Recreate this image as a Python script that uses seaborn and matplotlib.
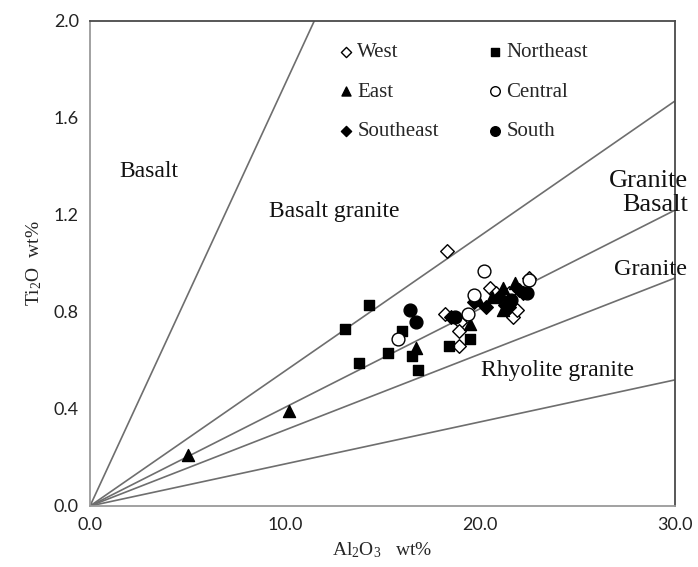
import numpy as np
import pandas as pd
import matplotlib
matplotlib.use("Agg")
import matplotlib.pyplot as plt
import seaborn as sns

# Sample groups: Al2O3 (wt%) and Ti2O (wt%)
west_al = [18.3, 18.2, 19.0, 18.9, 18.9, 20.5, 20.8, 21.5, 21.7, 21.9, 22.5]
west_ti = [1.05, 0.79, 0.76, 0.72, 0.66, 0.90, 0.88, 0.88, 0.78, 0.81, 0.94]

northeast_al = [14.3, 13.1, 16.0, 15.3, 16.5, 13.8, 16.8, 18.4, 19.5]
northeast_ti = [0.83, 0.73, 0.72, 0.63, 0.62, 0.59, 0.56, 0.66, 0.69]

east_al = [5.0, 10.2, 16.7, 19.5, 19.9, 21.2, 21.2, 21.8, 20.6]
east_ti = [0.21, 0.39, 0.65, 0.75, 0.85, 0.81, 0.90, 0.92, 0.86]

central_al = [15.8, 20.2, 19.7, 19.4, 22.5]
central_ti = [0.69, 0.97, 0.87, 0.79, 0.93]

southeast_al = [18.5, 19.7, 20.3, 21.0, 21.3, 21.5, 22.0, 22.2]
southeast_ti = [0.78, 0.84, 0.82, 0.86, 0.83, 0.82, 0.89, 0.88]

south_al = [16.4, 16.7, 18.7, 22.4, 21.6]
south_ti = [0.81, 0.76, 0.78, 0.88, 0.85]

# Classification boundaries: straight lines from the origin to these end points
boundary_x_end = [11.5, 30.0, 30.0, 30.0, 30.0]
boundary_y_end = [2.0, 1.67, 1.22, 0.94, 0.52]

# Field names and their positions
field_names = ["Basalt", "Basalt granite", "Granite\nBasalt", "Granite", "Rhyolite granite"]
field_x = [3.0, 12.5, 30.65, 30.6, 24.0]
field_y = [1.38, 1.215, 1.29, 0.975, 0.56]
field_ha = ["center", "center", "right", "right", "center"]
field_size = [17, 17, 19, 17.5, 17]

x_ticks = [0, 10, 20, 30]
y_ticks = [0.0, 0.4, 0.8, 1.2, 1.6, 2.0]

sns.set_theme(style="white")
plt.rcParams["font.family"] = ["Liberation Serif", "DejaVu Sans"]
plt.rcParams["mathtext.fontset"] = "custom"
plt.rcParams["mathtext.rm"] = "Liberation Serif"
plt.rcParams["mathtext.it"] = "Liberation Serif:italic"

fig = plt.figure(figsize=(6.98, 5.67), dpi=100)
ax = fig.add_axes([0.129, 0.1076, 0.838, 0.8554])

for xe, ye in zip(boundary_x_end, boundary_y_end):
    ax.plot([0, xe], [0, ye], color="#6e6e6e", lw=1.2, zorder=1)

groups = [
    ("West", west_al, west_ti, "D", "white", 48),
    ("East", east_al, east_ti, "^", "black", 75),
    ("Southeast", southeast_al, southeast_ti, "D", "black", 48),
    ("Northeast", northeast_al, northeast_ti, "s", "black", 60),
    ("Central", central_al, central_ti, "o", "white", 85),
    ("South", south_al, south_ti, "o", "black", 85),
]

for name, xs, ys, m, fc, s in groups:
    df = pd.DataFrame({"Al2O3": xs, "Ti2O": ys, "Region": name})
    sns.scatterplot(data=df, x="Al2O3", y="Ti2O", marker=m, s=s,
                    color=fc, edgecolor="black", linewidth=1.0,
                    label=name, ax=ax, zorder=3)

for txt, fx, fy, ha, fs in zip(field_names, field_x, field_y, field_ha, field_size):
    ax.text(fx, fy, txt, fontsize=fs, ha=ha, va="center", multialignment="right",
            linespacing=1.1, color="#111111", clip_on=False)

ax.set_xlim(0, 30)
ax.set_ylim(0, 2.0)
ax.set_xticks(x_ticks)
ax.set_yticks(y_ticks)
ax.set_xticklabels([f"{v:.1f}" for v in x_ticks], fontfamily="Lato", fontsize=13)
ax.set_yticklabels([f"{v:.1f}" for v in y_ticks], fontfamily="Lato", fontsize=13)
ax.tick_params(axis="both", direction="out", length=5, width=1, color="#8c8c8c",
               labelcolor="#222222")
ax.tick_params(axis="x", pad=3)
ax.tick_params(axis="y", pad=3)

ax.set_xlabel(r"Al$_\mathregular{2}$O$_\mathregular{3}$   wt%", fontsize=14, labelpad=5)
ax.set_ylabel(r"Ti$_\mathregular{2}$O  wt%", fontsize=14, labelpad=7)

for side in ["left", "bottom"]:
    ax.spines[side].set_color("#9a9a9a")
    ax.spines[side].set_linewidth(1.3)
for side in ["top", "right"]:
    ax.spines[side].set_color("#4a4a4a")
    ax.spines[side].set_linewidth(1.3)

handles, labels = ax.get_legend_handles_labels()
leg = ax.legend(handles, labels, ncol=2, frameon=False, fontsize=15,
                loc="upper left", bbox_to_anchor=(0.405, 0.972),
                markerscale=0.75, handletextpad=0.05, columnspacing=2.2,
                labelspacing=0.95, handlelength=1.0, borderaxespad=0)

fig.savefig("out.png", dpi=100)
